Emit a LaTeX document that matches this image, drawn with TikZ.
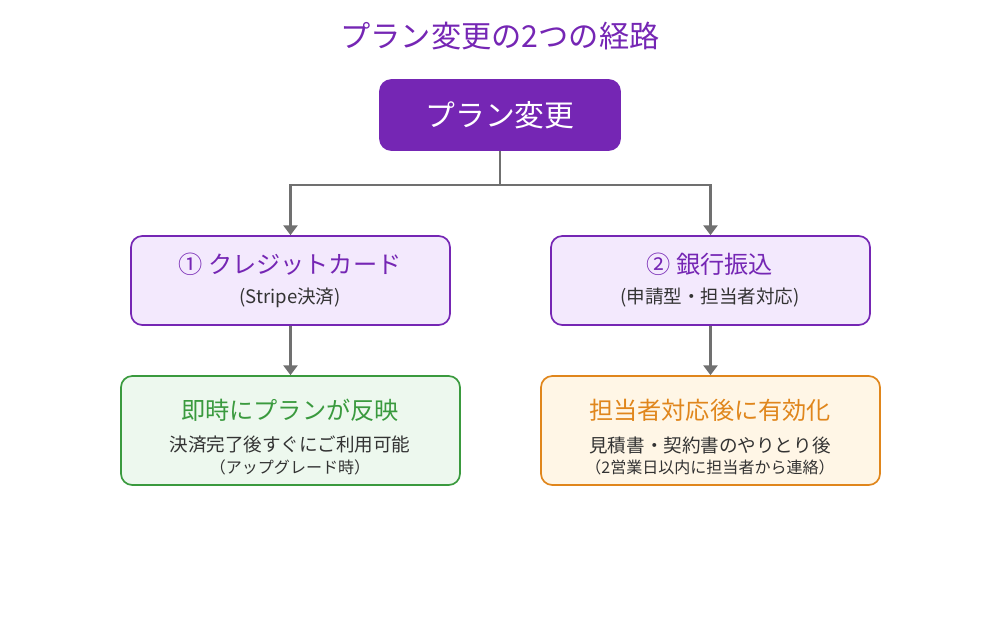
\documentclass[tikz,border=0pt]{standalone}
\usepackage{fontspec}
\usetikzlibrary{arrows.meta}
\setmainfont{Noto Sans CJK JP}
\definecolor{pur}{HTML}{7526B4}
\definecolor{purf}{HTML}{F3E9FD}
\definecolor{grn}{HTML}{3A9A3E}
\definecolor{grnf}{HTML}{EDF8EE}
\definecolor{org}{HTML}{E0861C}
\definecolor{orgf}{HTML}{FFF6E6}
\definecolor{ln}{HTML}{707070}
\definecolor{txt}{HTML}{333333}
\begin{document}
\begin{tikzpicture}[x=0.025cm,y=-0.025cm,
 box/.style={draw,line width=1.2pt,rounded corners=8pt,inner sep=0},
 conn/.style={draw=ln,line width=2pt},
 arr/.style={conn,-{Triangle[length=7pt,width=10pt]}}]
\useasboundingbox (0,0) rectangle (1000,620);
\node[text=pur,font=\fontsize{21.5}{24}\selectfont] (title) at (500,36) {プラン変更の2つの経路};
\node[box,draw=pur,fill=pur,minimum width=240*0.025cm,minimum height=70*0.025cm] (top) at (500,115) {};
\node[text=white,font=\fontsize{21.2}{24}\selectfont] at (top) {プラン変更};
\node[box,draw=pur,fill=purf,minimum width=319*0.025cm,minimum height=89*0.025cm] (b1) at (290.5,280.5) {};
\node[box,draw=pur,fill=purf,minimum width=319*0.025cm,minimum height=89*0.025cm] (b2) at (710.5,280.5) {};
\node[box,draw=grn,fill=grnf,minimum width=339*0.025cm,minimum height=109*0.025cm] (b3) at (290.5,430.5) {};
\node[box,draw=org,fill=orgf,minimum width=339*0.025cm,minimum height=109*0.025cm] (b4) at (710.5,430.5) {};
\node[text=pur,font=\fontsize{17.2}{20}\selectfont] at (290,264) {① クレジットカード};
\node[text=txt,font=\fontsize{13.2}{15}\selectfont] at (290,298) {(Stripe決済)};
\node[text=pur,font=\fontsize{17.2}{20}\selectfont] at (710,264) {② 銀行振込};
\node[text=txt,font=\fontsize{13.2}{15}\selectfont] at (710,298) {(申請型・担当者対応)};
\node[text=grn,font=\fontsize{17.2}{20}\selectfont] at (290,410) {即時にプランが反映};
\node[text=txt,font=\fontsize{13.2}{15}\selectfont] at (290,445) {決済完了後すぐにご利用可能};
\node[text=txt,font=\fontsize{11.4}{13}\selectfont] at (290,467) {（アップグレード時）};
\node[text=org,font=\fontsize{17.2}{20}\selectfont] at (710,410) {担当者対応後に有効化};
\node[text=txt,font=\fontsize{13.2}{15}\selectfont] at (710,445) {見積書・契約書のやりとり後};
\node[text=txt,font=\fontsize{11.4}{13}\selectfont] at (710,467) {（2営業日以内に担当者から連絡）};
\coordinate (j) at (500,185);
\draw[conn] (top.south) -- (j);
\draw[arr] (j) -| (b1.north);
\draw[arr] (j) -| (b2.north);
\draw[arr] (b1) -- (b3);
\draw[arr] (b2) -- (b4);
\end{tikzpicture}
\end{document}
